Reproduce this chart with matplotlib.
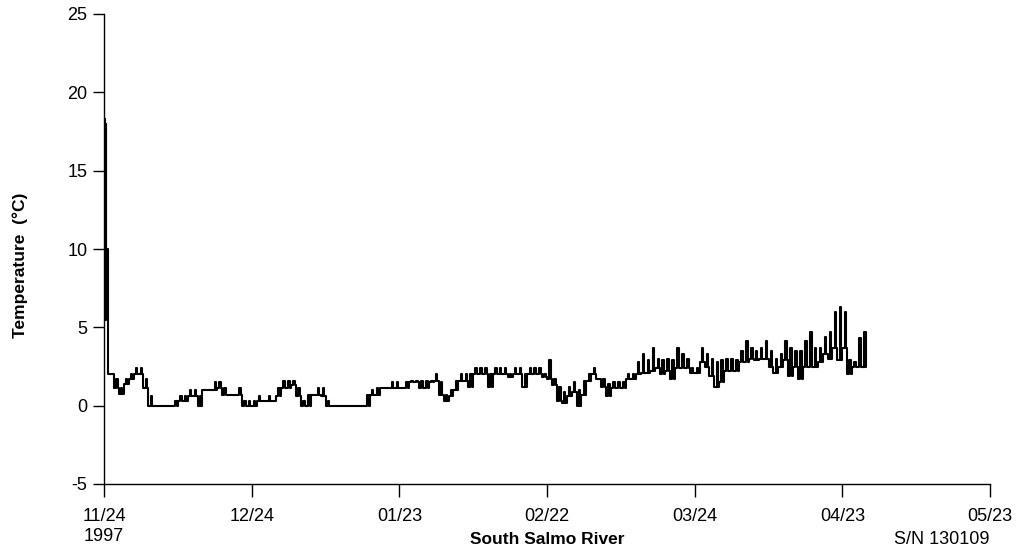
import matplotlib
matplotlib.use("Agg")
import matplotlib.pyplot as plt
import numpy as np

plt.rcParams["font.family"] = ["Liberation Sans", "DejaVu Sans"]
plt.rcParams["axes.unicode_minus"] = False

# first-day spike after logger deployment (days since 11/24/1997)
spike_days = [0.0, 0.08, 0.16, 0.24, 0.32, 0.4, 0.48, 0.56, 0.64, 0.72, 0.8, 0.9]
spike_temp = [18.3, 9.0, 18.3, 5.5, 18.0, 9.2, 10.0, 9.0, 10.0, 5.3, 5.3, 2.0]

# daily low / high readings, days 1..154
day_lo = [2.0, 1.1, 0.75, 1.4, 1.7, 2.0, 2.0, 1.1, 0.0, 0.0,
          0.0, 0.0, 0.0, 0.0, 0.3, 0.3, 0.6, 0.6, 0.0, 1.0,
          1.0, 1.0, 1.1, 0.7, 0.7, 0.7, 0.7, 0.0, 0.0, 0.0,
          0.3, 0.3, 0.3, 0.3, 0.6, 1.1, 1.1, 1.3, 0.6, 0.0,
          0.0, 0.7, 0.7, 0.6, 0.0, 0.0, 0.0, 0.0, 0.0, 0.0,
          0.0, 0.0, 0.0, 0.7, 0.7, 1.1, 1.1, 1.1, 1.1, 1.1,
          1.1, 1.5, 1.5, 1.1, 1.1, 1.5, 1.6, 0.7, 0.3, 0.6,
          1.0, 1.6, 1.6, 1.2, 2.0, 2.0, 2.0, 1.2, 2.0, 2.0,
          2.0, 1.8, 2.0, 2.0, 1.2, 2.0, 2.0, 2.0, 1.8, 1.7,
          1.3, 0.3, 0.2, 0.6, 0.9, 0.0, 0.7, 1.6, 2.0, 1.7,
          1.2, 0.6, 1.1, 1.1, 1.1, 1.7, 1.7, 2.0, 2.1, 2.1,
          2.2, 2.4, 2.0, 2.2, 1.7, 2.4, 2.4, 2.4, 2.1, 2.1,
          2.8, 2.5, 1.9, 1.2, 1.5, 2.2, 2.2, 2.2, 2.8, 2.8,
          3.0, 2.9, 3.0, 3.0, 2.5, 2.1, 2.5, 2.9, 1.9, 2.5,
          1.7, 2.5, 2.5, 2.5, 2.8, 3.3, 3.0, 3.7, 2.9, 3.7,
          2.0, 2.5, 2.5, 2.5]
day_hi = [2.0, 1.7, 1.1, 1.7, 2.0, 2.4, 2.4, 1.7, 0.6, 0.0,
          0.0, 0.0, 0.0, 0.3, 0.6, 0.6, 1.0, 1.0, 0.6, 1.0,
          1.0, 1.5, 1.5, 1.1, 0.7, 0.7, 1.1, 0.3, 0.3, 0.3,
          0.6, 0.3, 0.6, 0.3, 1.1, 1.6, 1.6, 1.6, 1.1, 0.3,
          0.7, 0.7, 1.1, 1.1, 0.3, 0.0, 0.0, 0.0, 0.0, 0.0,
          0.0, 0.0, 0.7, 1.0, 1.1, 1.1, 1.1, 1.5, 1.5, 1.1,
          1.5, 1.6, 1.6, 1.6, 1.6, 1.6, 2.0, 1.5, 0.7, 1.0,
          1.6, 2.0, 2.0, 2.0, 2.4, 2.4, 2.4, 2.0, 2.4, 2.4,
          2.4, 2.0, 2.4, 2.4, 2.0, 2.4, 2.4, 2.4, 2.0, 2.9,
          1.7, 1.2, 0.9, 1.2, 1.5, 1.0, 1.6, 2.0, 2.4, 1.7,
          1.7, 1.4, 1.5, 1.5, 1.5, 2.0, 2.0, 2.8, 3.3, 2.9,
          3.7, 3.0, 2.9, 3.0, 2.9, 3.7, 3.3, 3.0, 2.4, 2.4,
          3.7, 3.3, 3.0, 2.8, 2.9, 3.0, 3.0, 2.9, 3.5, 4.1,
          3.7, 3.5, 3.7, 4.1, 3.5, 3.0, 3.3, 4.1, 3.7, 3.5,
          3.5, 4.1, 4.7, 3.7, 3.7, 4.4, 4.7, 6.0, 6.3, 6.0,
          2.9, 2.8, 4.3, 4.7]

tick_days = [0, 30, 60, 90, 120, 150, 180]
tick_labels = ["11/24\n1997", "12/24", "01/23", "02/22", "03/24", "04/23", "05/23"]

# step series: low through the night, a short afternoon high, back to low
t = list(spike_days)
y = list(spike_temp)
for i, (lo, hi) in enumerate(zip(day_lo, day_hi)):
    d = i + 1
    t += [d, d + 0.45, d + 0.75]
    y += [lo, hi, lo]
t.append(154.3)
y.append(day_lo[-1])

fig = plt.figure(figsize=(10.24, 5.56), dpi=100, facecolor="white")
ax = fig.add_axes([104 / 1024, 72 / 556, 886 / 1024, 470 / 556])

ax.plot(t, y, color="black", lw=1.5, drawstyle="steps-post")

ax.set_xlim(0, 180)
ax.set_ylim(-5, 25)
ax.set_xticks(tick_days)
ax.set_xticklabels(tick_labels, linespacing=1.25)
ax.set_yticks(np.arange(-5, 26, 5))
for lab in ax.get_xticklabels():
    lab.set_multialignment("center")

for s in ["top", "right"]:
    ax.spines[s].set_visible(False)
for s in ["left", "bottom"]:
    ax.spines[s].set_linewidth(1.0)
ax.tick_params(axis="x", direction="out", length=9, width=1.0, labelsize=13, pad=8)
ax.tick_params(axis="y", direction="out", length=8, width=1.0, labelsize=13, pad=4)

ax.set_ylabel("Temperature  (°C)", fontsize=12.5, fontweight="bold")
ax.yaxis.set_label_coords(-0.086, 0.466)

fig.text(547 / 1024, 1 - 539 / 556, "South Salmo River", ha="center", va="center",
         fontsize=12.5, fontweight="bold")
fig.text(990 / 1024, 1 - 539 / 556, "S/N 130109", ha="right", va="center", fontsize=13)

fig.savefig("out.png", dpi=100, facecolor="white")
